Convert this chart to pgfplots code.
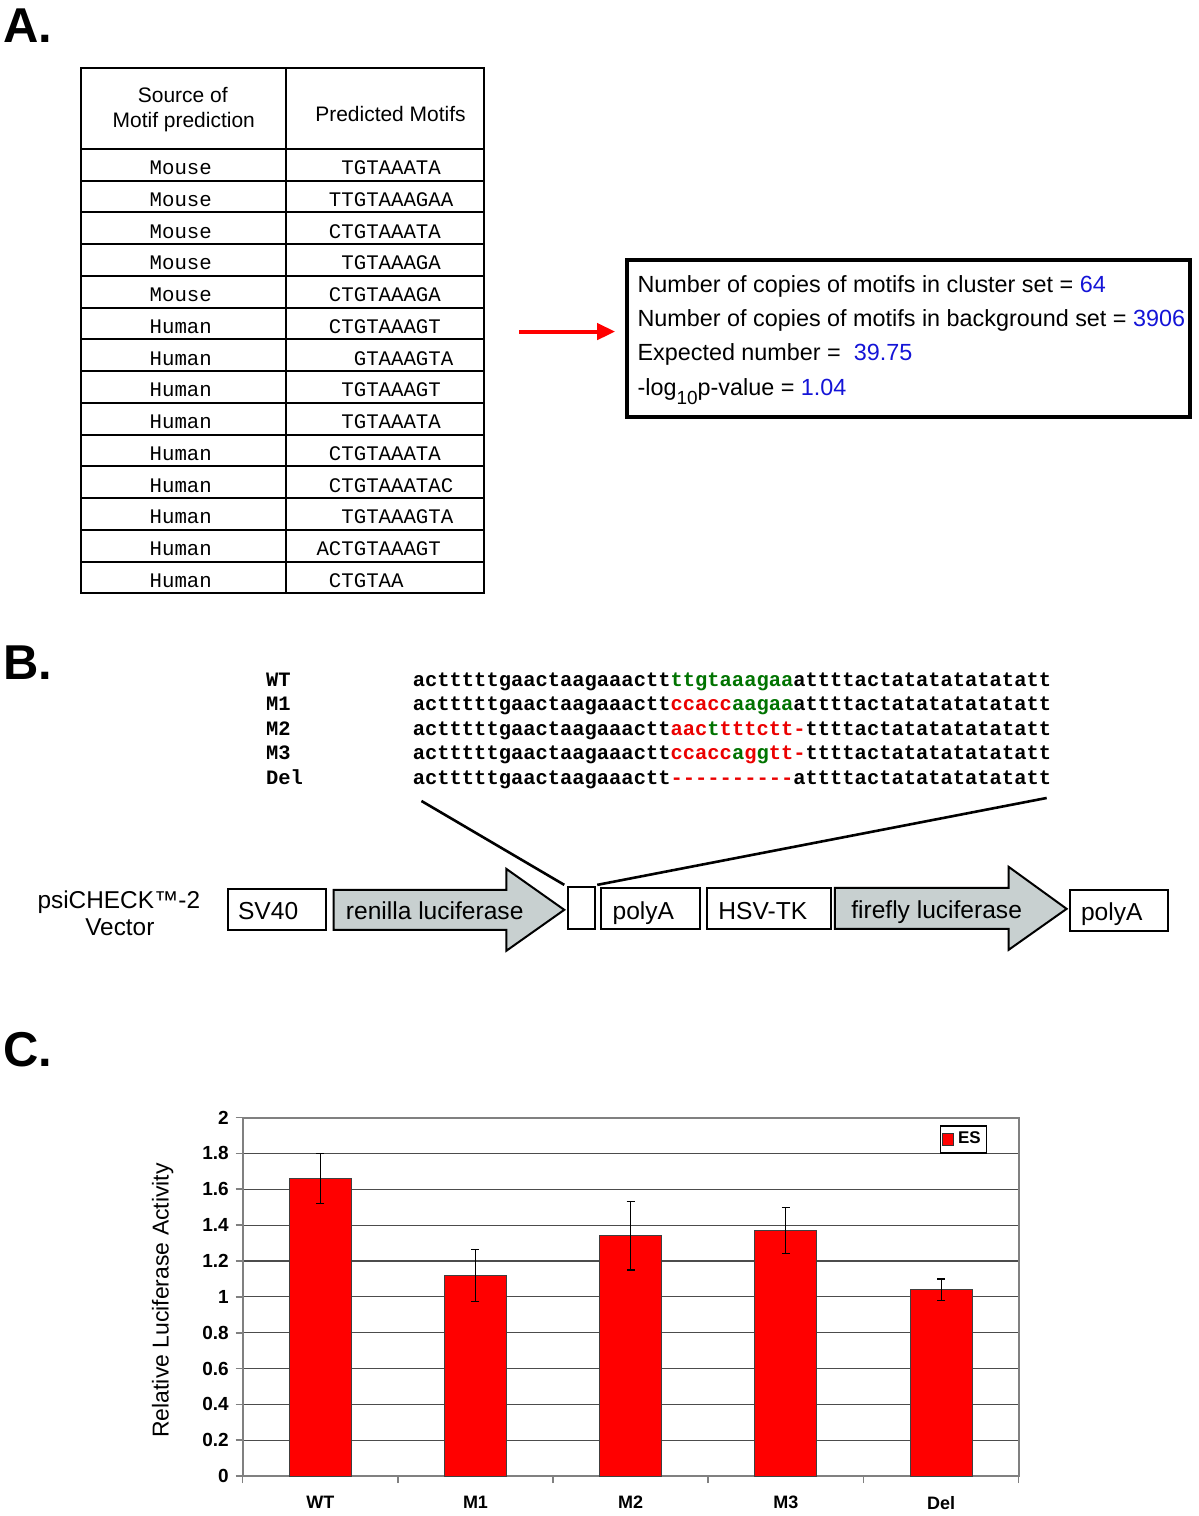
\documentclass[border=0pt]{standalone}
\usepackage{fontspec}
\setmainfont{Liberation Sans}
\setmonofont{Liberation Mono}
\usepackage{pgfplots}
\pgfplotsset{compat=1.18}
\usetikzlibrary{arrows.meta}
\definecolor{seqred}{RGB}{235,0,0}
\definecolor{seqgreen}{RGB}{0,115,0}
\definecolor{numblue}{RGB}{20,20,215}
\definecolor{boxgray}{RGB}{200,208,208}
\definecolor{axgray}{RGB}{128,128,128}
\newcommand{\sr}[1]{\textcolor{seqred}{#1}}
\newcommand{\sg}[1]{\textcolor{seqgreen}{#1}}
\newcommand{\dd}{-\kern0pt}
\newcommand{\seqfont}{\ttfamily\bfseries\fontsize{10.24}{12}\selectfont}
\newcommand{\tabfont}{\ttfamily\fontsize{10.37}{12}\selectfont}

\begin{document}
\begin{tikzpicture}
\begin{scope}[x=0.5pt,y=-0.5pt]
\path[use as bounding box] (0,0) rectangle (1200,1516);

% panel letters
\foreach \lab/\yy in {A./43, B./680, C./1068}
  \node[anchor=base west,inner sep=0,font=\bfseries\fontsize{24.5}{28}\selectfont] at (3,\yy) {\lab};

% ---- A: motif table
\draw[line width=1pt] (81,68) rectangle (485,594);
\draw[line width=1pt] (286,68) -- (286,594);
\draw[line width=1pt] (81,149) -- (485,149);
\foreach \i in {1,...,13}
  \draw[line width=1pt] (81,{149+\i*31.79}) -- (485,{149+\i*31.79});
\node[anchor=base,inner sep=0,font=\fontsize{10.5}{12}\selectfont] at (183,103) {Source of};
\node[anchor=base,inner sep=0,font=\fontsize{10.5}{12}\selectfont] at (184,128) {Motif prediction};
\node[anchor=base,inner sep=0,font=\fontsize{10.5}{12}\selectfont] at (391,122) {Predicted Motifs};
\foreach \src/\mot/\off [count=\i] in {
  Mouse/TGTAAATA/1, Mouse/TTGTAAAGAA/0, Mouse/CTGTAAATA/0, Mouse/TGTAAAGA/1,
  Mouse/CTGTAAAGA/0, Human/CTGTAAAGT/0, Human/GTAAAGTA/2, Human/TGTAAAGT/1,
  Human/TGTAAATA/1, Human/CTGTAAATA/0, Human/CTGTAAATAC/0, Human/TGTAAAGTA/1,
  Human/ACTGTAAAGT/-1, Human/CTGTAA/0} {
  \node[anchor=base,inner sep=0,font=\tabfont] at (181,{149+\i*31.79-6}) {\src};
  \node[anchor=base west,inner sep=0,font=\tabfont] at ({329+\off*12.45},{149+\i*31.79-6}) {\mot};
}

% arrow and result box
\draw[red,line width=2pt,-{Triangle[length=9pt,width=8pt]}] (520,332) -- (616,332);
\draw[line width=2pt] (628,260) rectangle (1192,418);
\begin{scope}[every node/.style={anchor=base west,inner sep=0,font=\fontsize{11.7}{13}\selectfont}]
\node at (638,293) {Number of copies of motifs in cluster set = \textcolor{numblue}{64}};
\node at (638,327) {Number of copies of motifs in background set = \textcolor{numblue}{3906}};
\node at (638,361) {Expected number = \ \textcolor{numblue}{39.75}};
\node at (638,396) {-log\raisebox{-0.4em}{\fontsize{9.5}{10}\selectfont 10}p-value = \textcolor{numblue}{1.04}};
\end{scope}

% ---- B: sequences
\begin{scope}[every node/.style={anchor=base west,inner sep=0,font=\seqfont}]
\node at (266,687) {WT};
\node at (266,711) {M1};
\node at (266,736) {M2};
\node at (266,760) {M3};
\node at (266,785) {Del};
\node at (413,687) {actttttgaactaagaaactt\sg{ttgtaaagaa}attttactatatatatatatt};
\node at (413,711) {actttttgaactaagaaactt\sr{ccacc}\sg{aagaa}attttactatatatatatatt};
\node at (413,736) {actttttgaactaagaaactt\sr{aac}\sg{t}\sr{tttctt\dd}ttttactatatatatatatt};
\node at (413,760) {actttttgaactaagaaactt\sr{ccacc}\sg{a}\sr{g}\sg{g}\sr{tt\dd}ttttactatatatatatatt};
\node at (413,785) {actttttgaactaagaaactt\sr{\dd\dd\dd\dd\dd\dd\dd\dd\dd\dd}attttactatatatatatatt};
\end{scope}

% vector map
\draw[line width=1.3pt] (422,802) -- (565,886);
\draw[line width=1.3pt] (1048,799) -- (598,886);
\node[anchor=base,inner sep=0,font=\fontsize{12.2}{14}\selectfont] at (119,910) {psiCHECK™-2};
\node[anchor=base,inner sep=0,font=\fontsize{12.2}{14}\selectfont] at (120,937) {Vector};
\begin{scope}[line width=1pt]
\draw (228,890) rectangle (326,931);
\draw[fill=boxgray] (334,891) -- (507,891) -- (507,870) -- (565,911) -- (507,952) -- (507,931) -- (334,931) -- cycle;
\draw (569,888) rectangle (596,930);
\draw (602,889) rectangle (701,930);
\draw (708,889) rectangle (832,930);
\draw[fill=boxgray] (836,889) -- (1010,889) -- (1010,868) -- (1068,910) -- (1010,951) -- (1010,930) -- (836,930) -- cycle;
\draw (1071,891) rectangle (1169,932);
\end{scope}
\begin{scope}[every node/.style={anchor=base west,inner sep=0,font=\fontsize{12.3}{14}\selectfont}]
\node at (238,921) {SV40};
\node at (346,921) {renilla luciferase};
\node at (613,921) {polyA};
\node at (719,921) {HSV-TK};
\node at (852,920) {firefly luciferase};
\node at (1082,922) {polyA};
\end{scope}
\end{scope}

% ---- C: luciferase bar chart
\begin{axis}[
  at={(121.5pt,-739pt)}, anchor=south west,
  width=388.5pt, height=179.5pt, scale only axis,
  xmin=0, xmax=5, ymin=0, ymax=2,
  xtick={0,1,2,3,4,5}, x tick label as interval,
  xticklabels={WT,M1,M2,M3,Del},
  ytick={0,0.2,0.4,0.6,0.8,1,1.2,1.4,1.6,1.8,2},
  yticklabels={0,0.2,0.4,0.6,0.8,1,1.2,1.4,1.6,1.8,2},
  xtick pos=bottom, ytick pos=left,
  tick align=outside, major tick length=3.5pt,
  tick style={axgray,line width=0.8pt},
  axis line style={axgray,line width=1pt},
  ymajorgrids, grid style={black!70,line width=0.6pt},
  /pgf/number format/assume math mode=true,
  yticklabel style={font=\bfseries\fontsize{9.5}{11}\selectfont},
  xticklabel style={font=\bfseries\fontsize{9}{11}\selectfont, yshift=-3pt},
  ylabel={Relative Luciferase Activity},
  ylabel style={font=\fontsize{11.5}{13}\selectfont, at={(axis description cs:-0.103,0.49)}, anchor=center},
  legend style={at={(0.898,0.978)}, anchor=north west, draw=black, line width=0.6pt,
    font=\bfseries\fontsize{8.5}{9}\selectfont, inner sep=1pt, row sep=0pt},
  legend image code/.code={\draw[fill=red,draw=black!80,line width=0.4pt] (0pt,-2.8pt) rectangle (5.6pt,2.8pt);},
]
\addplot[ybar, bar width=0.4, fill=red, draw=black!75, line width=0.5pt,
  error bars/.cd, y dir=both, y explicit, error mark=-,
  error bar style={black,line width=0.5pt},
  error mark options={rotate=90,black,mark size=2pt,line width=0.6pt}]
coordinates {
  (0.5,1.66) +- (0,0.14)
  (1.5,1.12) +- (0,0.145)
  (2.5,1.34) +- (0,0.19)
  (3.5,1.37) +- (0,0.13)
  (4.5,1.04) +- (0,0.06)
};
\addlegendentry{ES}
\end{axis}
\end{tikzpicture}
\end{document}
